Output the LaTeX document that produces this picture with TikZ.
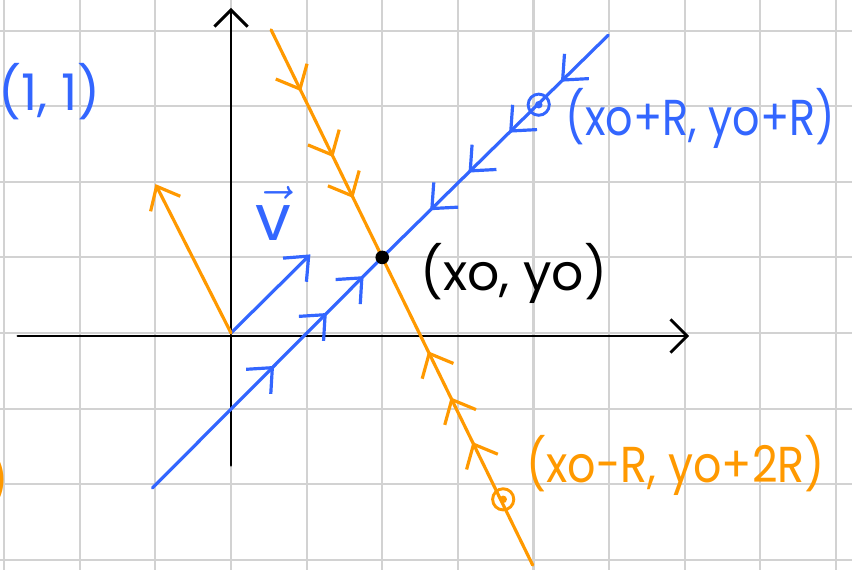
\documentclass[tikz,border=0pt]{standalone}
\usepackage{fontspec}
\setmainfont{Poppins}
\usepackage{xcolor}
\usepackage{tikz}
\usetikzlibrary{arrows.meta,decorations.markings}
\definecolor{skBlue}{HTML}{3366FF}
\definecolor{skOrange}{HTML}{FF9900}
\definecolor{skGrid}{HTML}{D2D2D2}
\tikzset{
  grid line/.style={draw=skGrid,line width=0.8pt},
  axis line/.style={draw=black,line width=1.1pt,line cap=round,-{Straight Barb[length=2.2mm,width=4.4mm]}},
  pen line/.style={draw=#1,color=#1,line width=1.2pt,line cap=round},
  vector tip/.style={-{Straight Barb[length=2.6mm,width=4.4mm]}},
  flow tip/.style={postaction={decorate,decoration={markings,
    mark=at position #1 with {\arrow{Straight Barb[length=2.6mm,width=4.6mm]}}}}},
  pen ring/.style={circle,draw=#1,line width=1.1pt,minimum size=2.8mm,inner sep=0pt,
    path picture={\fill[#1] (path picture bounding box.center) circle (0.5mm);}},
  pen dot/.style={circle,fill=black,minimum size=1.8mm,inner sep=0pt},
  pen text/.style={text=#1,font=\fontsize{19}{22}\selectfont,inner sep=0pt}
}
\newcommand{\narrow}[2]{\scalebox{#1}[1]{#2}}
\begin{document}
\begin{tikzpicture}
\useasboundingbox (-3.056,-3.122) rectangle (8.214,4.405);
\clip (-3.056,-3.122) rectangle (8.214,4.405);
\draw[grid line] (-3.5,-3.5) grid (8.5,4.5);
\coordinate (O) at (0,0);
\coordinate (xs) at (-2.82,-0.04);
\coordinate (xe) at (6.06,-0.04);
\coordinate (ys) at (0,-1.75);
\coordinate (ye) at (0,4.30);
\coordinate (P0) at (2,1);
\coordinate (b1) at (-1.04,-2.05);
\coordinate (b2) at (4.99,3.94);
\coordinate (o1) at (0.53,4.01);
\coordinate (o2) at (3.99,-3.07);
\coordinate (V) at (1.05,1.04);
\coordinate (W) at (-1.0,1.97);
\draw[axis line] (xs) -- (xe);
\draw[axis line] (ys) -- (ye);
\draw[pen line=skBlue,flow tip=0.53,flow tip=0.76,flow tip=0.92] (b1) -- (P0);
\draw[pen line=skBlue,flow tip=0.21,flow tip=0.44,flow tip=0.62,flow tip=0.79] (b2) -- (P0);
\draw[pen line=skOrange,flow tip=0.27,flow tip=0.56,flow tip=0.74] (o1) -- (P0);
\draw[pen line=skOrange,flow tip=0.40,flow tip=0.545,flow tip=0.695] (o2) -- (P0);
\draw[pen line=skBlue,vector tip] (O) -- (V);
\draw[pen line=skOrange,vector tip] (O) -- (W);
\node[pen dot] (x0y0) at (P0) {};
\node[pen ring=skBlue] (plusR) at (4.07,3.02) {};
\node[pen ring=skOrange] (minusR) at (3.6,-2.2) {};
\node[pen text=black,anchor=west] (lblP0) at (2.5,0.79) {(xo, yo)};
\node[pen text=skBlue,anchor=west] (lblPlus) at (4.42,2.84) {\narrow{0.85}{(xo+R, yo+R)}};
\node[pen text=skOrange,anchor=west] (lblMinus) at (3.9,-1.75) {\narrow{0.88}{(xo-R, yo+2R)}};
\node[pen text=skBlue,anchor=east] (lblOne) at (-1.72,3.19) {(1, 1)};
\node[pen text=skOrange,anchor=east] (lblCut) at (-2.93,-1.94) {)};
\node[pen text=skBlue,font=\fontsize{24}{26}\selectfont] (lblV) at (0.56,1.58) {$\vec{\mbox{v}}$};
\end{tikzpicture}
\end{document}
